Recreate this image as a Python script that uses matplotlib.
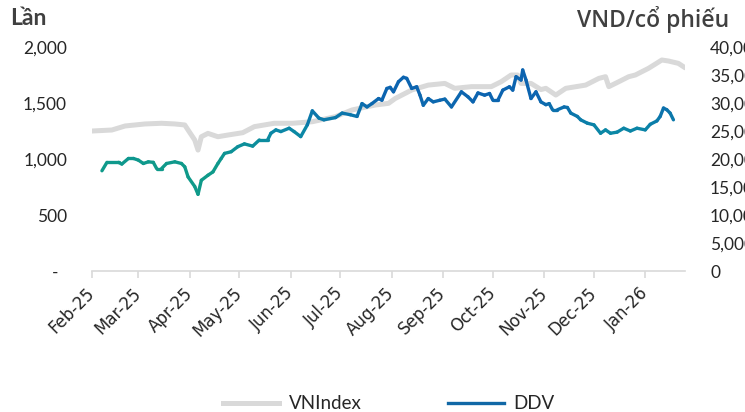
import matplotlib
matplotlib.use('Agg')
import matplotlib.pyplot as plt
import matplotlib.dates as mdates
import numpy as np
import pandas as pd
from matplotlib.collections import LineCollection
from matplotlib.colors import LinearSegmentedColormap, Normalize
from matplotlib.lines import Line2D

plt.rcParams['font.family'] = ['DejaVu Sans']

# VNIndex (left axis, points)
vni_dates = ['2025-02-01', '2025-02-13', '2025-02-21', '2025-03-05', '2025-03-15', '2025-03-23',
             '2025-03-29', '2025-03-31', '2025-04-04', '2025-04-06', '2025-04-08', '2025-04-12',
             '2025-04-18', '2025-04-24', '2025-05-03', '2025-05-10', '2025-05-22', '2025-06-02',
             '2025-06-14', '2025-06-28', '2025-07-08', '2025-07-22', '2025-07-30', '2025-08-03',
             '2025-08-13', '2025-08-23', '2025-09-02', '2025-09-08', '2025-09-18', '2025-09-30',
             '2025-10-06', '2025-10-12', '2025-10-16', '2025-10-18', '2025-10-24', '2025-10-30',
             '2025-11-02', '2025-11-08', '2025-11-14', '2025-11-26', '2025-12-04', '2025-12-08',
             '2025-12-10', '2025-12-16', '2025-12-22', '2025-12-26', '2026-01-03', '2026-01-11',
             '2026-01-15', '2026-01-21', '2026-01-25']
vni_values = [1250, 1259, 1295, 1313, 1319, 1313,
              1304, 1259, 1170, 1080, 1199, 1229,
              1199, 1214, 1235, 1289, 1319, 1319,
              1333, 1378, 1438, 1482, 1497, 1540,
              1616, 1660, 1675, 1631, 1646, 1646,
              1690, 1750, 1750, 1675, 1675, 1620,
              1631, 1571, 1631, 1660, 1720, 1735,
              1646, 1690, 1735, 1750, 1810, 1884,
              1875, 1854, 1815]

# DDV share price (right axis, VND)
ddv_dates = ['2025-02-07', '2025-02-10', '2025-02-17', '2025-02-19', '2025-02-23', '2025-02-26',
             '2025-03-01', '2025-03-04', '2025-03-07', '2025-03-10', '2025-03-12', '2025-03-15',
             '2025-03-18', '2025-03-23', '2025-03-27', '2025-03-29', '2025-03-31', '2025-04-04',
             '2025-04-06', '2025-04-08', '2025-04-12', '2025-04-15', '2025-04-18', '2025-04-20',
             '2025-04-22', '2025-04-26', '2025-04-30', '2025-05-04', '2025-05-09', '2025-05-13',
             '2025-05-18', '2025-05-20', '2025-05-23', '2025-05-26', '2025-05-31', '2025-06-03',
             '2025-06-07', '2025-06-11', '2025-06-14', '2025-06-18', '2025-06-21', '2025-06-28',
             '2025-07-02', '2025-07-07', '2025-07-11', '2025-07-14', '2025-07-17', '2025-07-20',
             '2025-07-24', '2025-07-26', '2025-07-29', '2025-07-31', '2025-08-02', '2025-08-05',
             '2025-08-08', '2025-08-10', '2025-08-13', '2025-08-16', '2025-08-18', '2025-08-20',
             '2025-08-23', '2025-08-26', '2025-08-30', '2025-09-02', '2025-09-06', '2025-09-12',
             '2025-09-16', '2025-09-19', '2025-09-22', '2025-09-26', '2025-09-29', '2025-10-01',
             '2025-10-04', '2025-10-07', '2025-10-11', '2025-10-13', '2025-10-15', '2025-10-18',
             '2025-10-19', '2025-10-21', '2025-10-24', '2025-10-27', '2025-10-30', '2025-11-02',
             '2025-11-04', '2025-11-06', '2025-11-09', '2025-11-13', '2025-11-15', '2025-11-17',
             '2025-11-21', '2025-11-23', '2025-11-27', '2025-12-01', '2025-12-05', '2025-12-08',
             '2025-12-11', '2025-12-15', '2025-12-19', '2025-12-23', '2025-12-27', '2026-01-01',
             '2026-01-04', '2026-01-08', '2026-01-10', '2026-01-12', '2026-01-14', '2026-01-16',
             '2026-01-18']
ddv_values = [17900, 19400, 19400, 19100, 20100, 20100,
              19800, 19200, 19500, 19400, 18300, 18300,
              19200, 19500, 19200, 18600, 16800, 15100,
              13700, 16200, 17100, 17700, 19200, 20100,
              21000, 21300, 22200, 22700, 22300, 23400,
              23400, 24600, 25200, 24900, 25500, 24900,
              24000, 26100, 28600, 27300, 27000, 27400,
              28200, 27900, 27600, 29900, 29300, 29900,
              30800, 30500, 32600, 32800, 32000, 33800,
              34600, 34400, 32600, 32900, 31400, 29600,
              30800, 30200, 30500, 30700, 29300, 32000,
              31100, 30200, 31800, 31400, 31700, 30500,
              30500, 32300, 32900, 32300, 34700, 34100,
              35900, 34100, 30800, 32000, 30200, 29700,
              29900, 28800, 28800, 29300, 29200, 28200,
              27600, 27000, 26400, 26100, 24600, 25200,
              24600, 24800, 25500, 25000, 25500, 25200,
              26200, 26800, 27600, 29100, 28800, 28200,
              27000]

month_ticks = pd.date_range('2025-02-01', '2026-01-01', freq='MS')
month_labels = [d.strftime('%b-%y') for d in month_ticks]
left_ticks = [0, 500, 1000, 1500, 2000]
left_labels = ['-  ', '500', '1,000', '1,500', '2,000']
right_ticks = [0, 5000, 10000, 15000, 20000, 25000, 30000, 35000, 40000]

gray = '#d9d9d9'
txt = '#262626'

fig = plt.figure(figsize=(7.45, 4.12), dpi=100)
ax = fig.add_axes([0.1235, 0.3422, 0.796, 0.5437])
ax2 = ax.twinx()

vd = pd.to_datetime(vni_dates)
ax.plot(vd, vni_values, color=gray, lw=3.6, solid_capstyle='round', solid_joinstyle='round')

# DDV line, colour shifts from teal (low) to blue (high)
dx = mdates.date2num(pd.to_datetime(ddv_dates))
dy = np.array(ddv_values, dtype=float)
pts = np.column_stack([dx, dy]).reshape(-1, 1, 2)
segs = np.concatenate([pts[:-1], pts[1:]], axis=1)
cmap = LinearSegmentedColormap.from_list('ddv', ['#0f9a8a', '#0b87a6', '#0c64b0'])
lc = LineCollection(segs, cmap=cmap, norm=Normalize(19000, 31000), linewidths=2.4,
                    capstyle='round', joinstyle='round')
lc.set_array((dy[:-1] + dy[1:]) / 2)
ax2.add_collection(lc)

ax.set_xlim(pd.Timestamp('2025-02-01'), pd.Timestamp('2026-01-25'))
ax.set_ylim(0, 2000)
ax2.set_ylim(0, 40000)

ax.set_xticks(mdates.date2num(month_ticks))
ax.set_xticklabels(month_labels, rotation=45, ha='right', va='center', rotation_mode='anchor',
                   fontsize=12, color=txt, family='DejaVu Sans')
ax.tick_params(axis='x', length=5, color=gray, width=1.2, pad=9)

ax.set_yticks(left_ticks)
ax.set_yticklabels(left_labels, family='Lato')
ax.tick_params(axis='y', length=0, pad=18, labelsize=12.5, labelcolor=txt)
ax2.set_yticks(right_ticks)
ax2.set_yticklabels(['{:,}'.format(v) for v in right_ticks], family='Lato')
ax2.tick_params(axis='y', length=0, pad=18, labelsize=12.5, labelcolor=txt)

for a in (ax, ax2):
    for s in ['top', 'right', 'left', 'bottom']:
        a.spines[s].set_visible(False)
ax.spines['bottom'].set_visible(True)
ax.spines['bottom'].set_color(gray)
ax.spines['bottom'].set_linewidth(1.2)

fig.text(0.013, 0.955, 'Lần', fontsize=16.5, fontweight='bold', color='#404040',
         family='Lato', va='center', ha='left')
fig.text(0.774, 0.952, 'VND/cổ phiếu', fontsize=16.5, fontweight='semibold', color='#404040',
         family='Open Sans', va='center', ha='left')

handles = [Line2D([], [], color=gray, lw=3.6), Line2D([], [], color='#1168a6', lw=2.4)]
fig.legend(handles, ['VNIndex', 'DDV'], loc='center', bbox_to_anchor=(0.522, 0.02), ncol=2,
           frameon=False, handlelength=3.0, columnspacing=4.6, handletextpad=0.5,
           prop={'family': 'Lato', 'size': 13.5}, labelcolor=txt)

fig.savefig('out.png', dpi=100)
